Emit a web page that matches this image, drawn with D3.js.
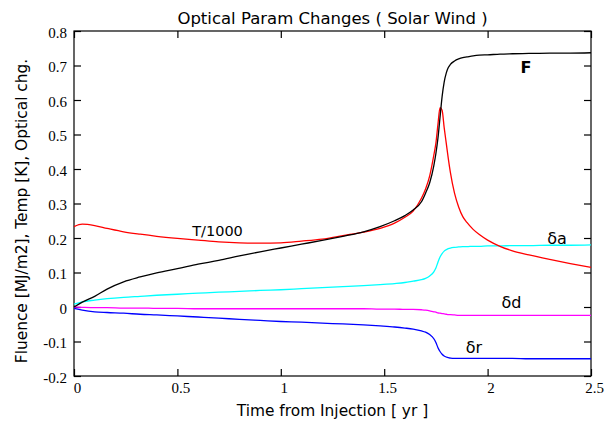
<!DOCTYPE html>
<html><head><meta charset="utf-8">
<script src="https://cdn.jsdelivr.net/npm/d3@7"></script>
<style>body{margin:0;background:#fff}svg{display:block}</style>
</head><body><svg id="c" width="615" height="422"></svg>
<script>
const times = [0,0.04,0.1,0.16,0.24,0.32,0.4,0.5,0.6,0.7,0.8,0.9,1.0,1.1,1.2,1.3,1.4,1.48,1.55,1.6,1.64,1.68,1.7,1.72,1.74,1.75,1.76,1.77,1.78,1.79,1.8,1.81,1.82,1.84,1.86,1.88,1.9,1.93,1.96,2.0,2.06,2.12,2.2,2.3,2.4,2.5];
const fluence = [0,0.014,0.031,0.052,0.073,0.087,0.099,0.111,0.124,0.135,0.148,0.16,0.171,0.182,0.193,0.205,0.218,0.233,0.25,0.265,0.281,0.305,0.33,0.36,0.41,0.445,0.49,0.55,0.61,0.652,0.678,0.694,0.703,0.713,0.719,0.723,0.725,0.728,0.73,0.731,0.733,0.734,0.735,0.736,0.736,0.737];
const tempK = [0.233,0.24,0.236,0.228,0.218,0.211,0.205,0.199,0.194,0.189,0.186,0.185,0.186,0.191,0.197,0.207,0.217,0.228,0.243,0.26,0.278,0.315,0.342,0.38,0.44,0.475,0.53,0.578,0.57,0.52,0.475,0.43,0.39,0.33,0.29,0.262,0.245,0.225,0.21,0.194,0.176,0.163,0.151,0.138,0.126,0.115];
const deltaA = [0.008,0.015,0.02,0.024,0.028,0.031,0.034,0.037,0.04,0.043,0.045,0.048,0.05,0.053,0.056,0.059,0.062,0.065,0.068,0.071,0.075,0.079,0.083,0.09,0.102,0.113,0.13,0.145,0.155,0.162,0.166,0.169,0.171,0.173,0.174,0.175,0.175,0.176,0.176,0.177,0.177,0.178,0.178,0.179,0.179,0.18];
const deltaD = [0,-0.001,-0.002,-0.002,-0.003,-0.003,-0.004,-0.004,-0.005,-0.005,-0.005,-0.005,-0.005,-0.005,-0.005,-0.005,-0.005,-0.006,-0.006,-0.007,-0.007,-0.008,-0.009,-0.011,-0.014,-0.015,-0.017,-0.018,-0.019,-0.02,-0.021,-0.022,-0.022,-0.023,-0.024,-0.024,-0.024,-0.024,-0.024,-0.024,-0.024,-0.024,-0.024,-0.024,-0.024,-0.024];
const deltaR = [-0.004,-0.009,-0.014,-0.016,-0.018,-0.021,-0.023,-0.026,-0.029,-0.032,-0.036,-0.039,-0.042,-0.044,-0.047,-0.049,-0.052,-0.055,-0.058,-0.061,-0.064,-0.069,-0.073,-0.08,-0.092,-0.103,-0.118,-0.129,-0.137,-0.142,-0.145,-0.147,-0.148,-0.149,-0.149,-0.149,-0.149,-0.149,-0.149,-0.149,-0.149,-0.149,-0.15,-0.15,-0.15,-0.15];
const xTicks = [0,0.5,1,1.5,2,2.5];
const xTickLabels = ["0","0.5","1","1.5","2","2.5"];
const yTicks = [-0.2,-0.1,0,0.1,0.2,0.3,0.4,0.5,0.6,0.7,0.8];
const yTickLabels = ["-0.2","-0.1","0","0.1","0.2","0.3","0.4","0.5","0.6","0.7","0.8"];
const seriesNames = ["F","T/1000","δa","δd","δr"];
const seriesColors = ["#000000","#ff0000","#00ffff","#ff00ff","#0000ff"];
const seriesValues = [fluence,tempK,deltaA,deltaD,deltaR];
const labelAt = [[2.186,0.678],[0.694,0.206],[2.336,0.183],[2.115,-0.003],[1.934,-0.133]];

(function(){
const svg = d3.select("#c");
const L=74, R=591, T=31, B=376;
const x = d3.scaleLinear().domain([0,2.5]).range([L,R]);
const y = d3.scaleLinear().domain([-0.2,0.8]).range([B,T]);
const tl = 7;

const g = svg.append("g");
g.append("rect").attr("x",L).attr("y",T).attr("width",R-L).attr("height",B-T)
 .attr("fill","none").attr("stroke","#000").attr("stroke-width",1.2);

const ax = (sel, axis) => { sel.call(axis); sel.select(".domain").remove(); };
const axB = g.append("g").attr("transform",`translate(0,${B})`);
ax(axB, d3.axisBottom(x).tickValues(xTicks).tickSize(-tl).tickPadding(6.5).tickFormat((d,i)=>xTickLabels[i]));
const axT = g.append("g").attr("transform",`translate(0,${T})`);
ax(axT, d3.axisTop(x).tickValues(xTicks).tickSize(-tl).tickFormat(""));
const axL = g.append("g").attr("transform",`translate(${L},0)`);
ax(axL, d3.axisLeft(y).tickValues(yTicks).tickSize(-tl).tickPadding(7).tickFormat((d,i)=>yTickLabels[i]));
const axR = g.append("g").attr("transform",`translate(${R},0)`);
ax(axR, d3.axisRight(y).tickValues(yTicks).tickSize(-tl).tickFormat(""));
svg.selectAll(".tick line").attr("stroke","#000").attr("stroke-width",1.2);
svg.selectAll(".tick text").attr("font-family","'Liberation Serif','Times New Roman',serif").attr("font-size","15px").attr("fill","#000");
axL.selectAll(".tick text").attr("dy","0.42em");
axB.selectAll(".tick text").attr("dx","3");

const line = d3.line().x((d,i)=>x(times[i])).y(d=>y(d)).curve(d3.curveMonotoneX);
const order = [3,4,2,1,0];
order.forEach(k=>{
  g.append("path").attr("d",line(seriesValues[k])).attr("fill","none")
   .attr("stroke",seriesColors[k]).attr("stroke-width",1.3);
});

const sans = "'DejaVu Sans',Verdana,sans-serif";
seriesNames.forEach((n,k)=>{
  const t = g.append("text").attr("x",x(labelAt[k][0])).attr("y",y(labelAt[k][1]))
   .attr("text-anchor","middle").attr("font-family",sans).attr("fill","#000").text(n);
  if(k===0) t.attr("font-weight","bold").attr("font-size","16px");
  else if(k===1) t.attr("font-size","14.5px");
  else t.attr("font-size","16px");
});

svg.append("text").attr("x",(L+R)/2).attr("y",24).attr("text-anchor","middle")
  .attr("font-family",sans).attr("font-size","16.5px").text("Optical Param Changes ( Solar Wind )");
svg.append("text").attr("x",(L+R)/2).attr("y",416).attr("text-anchor","middle")
  .attr("font-family",sans).attr("font-size","15.4px").text("Time from Injection [ yr ]");
svg.append("text").attr("transform","translate(27,211) rotate(-90)").attr("text-anchor","middle")
  .attr("font-family",sans).attr("font-size","15.4px").text("Fluence [MJ/m2], Temp [K], Optical chg.");
})();
</script></body></html>
